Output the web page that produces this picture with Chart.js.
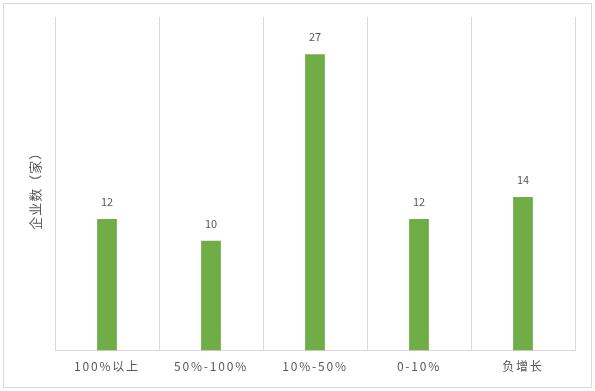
<!DOCTYPE html>
<html><head><meta charset="utf-8">
<script src="https://cdn.jsdelivr.net/npm/chart.js@4/dist/chart.umd.min.js"></script>
<style>html,body{margin:0;padding:0;background:#fff}#wrap{width:595px;height:391px;position:relative}</style>
</head><body><div id="wrap"><canvas id="c" width="595" height="391"></canvas></div>
<script>
const categories = ['100%以上', '50%-100%', '10%-50%', '0-10%', '负增长'];
const companyCounts = [12, 10, 27, 12, 14];
const yAxisTitle = '企业数（家）';

const FONT = "'Noto Sans CJK SC', 'Noto Sans', sans-serif";

const decor = {
  id: 'decor',
  beforeDraw(chart) {
    const ctx = chart.ctx;
    ctx.save();
    ctx.fillStyle = '#fff';
    ctx.fillRect(0, 0, chart.width, chart.height);
    ctx.strokeStyle = '#d9d9d9';
    ctx.lineWidth = 1;
    ctx.strokeRect(3.5, 3.5, chart.width - 7, chart.height - 7);
    ctx.restore();
    ctx.letterSpacing = '1.8px';
  },
  afterDatasetsDraw(chart) {
    const ctx = chart.ctx;
    ctx.save();
    ctx.letterSpacing = '0px';
    ctx.fillStyle = '#595959';
    ctx.font = '11px ' + FONT;
    ctx.textAlign = 'center';
    ctx.textBaseline = 'middle';
    const meta = chart.getDatasetMeta(0);
    meta.data.forEach((bar, i) => {
      ctx.fillText(String(chart.data.datasets[0].data[i]), bar.x, bar.y - 17);
    });
    // y axis title
    const ca = chart.chartArea;
    ctx.translate(35, (ca.top + ca.bottom) / 2 + 4);
    ctx.rotate(-Math.PI / 2);
    ctx.font = '13px ' + FONT;
    ctx.letterSpacing = '1px';
    ctx.fillStyle = '#595959';
    ctx.fillText(yAxisTitle, 0, 0);
    ctx.restore();
  }
};

new Chart(document.getElementById('c'), {
  type: 'bar',
  data: {
    labels: categories,
    datasets: [{
      data: companyCounts,
      backgroundColor: '#70AD47',
      barPercentage: 0.19,
      categoryPercentage: 1.0
    }]
  },
  options: {
    responsive: false,
    animation: false,
    devicePixelRatio: 1,
    layout: { padding: { left: 55, right: 20, top: 17, bottom: 8 } },
    plugins: { legend: { display: false }, tooltip: { enabled: false } },
    scales: {
      x: {
        offset: true,
        grid: { display: true, offset: true, color: '#d9d9d9', lineWidth: 1, drawTicks: false },
        border: { display: true, color: '#d9d9d9' },
        ticks: { color: '#595959', font: { family: FONT, size: 12 }, padding: 9, maxRotation: 0 }
      },
      y: {
        display: false,
        min: 0,
        max: 30.4
      }
    }
  },
  plugins: [decor]
});
</script></body></html>
